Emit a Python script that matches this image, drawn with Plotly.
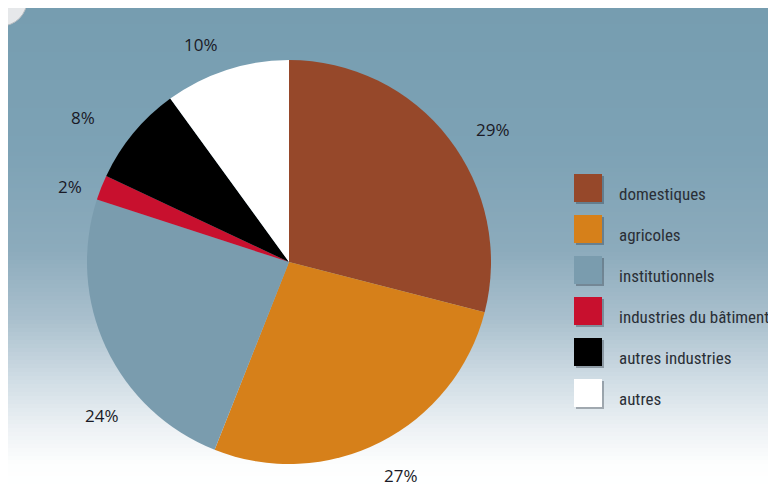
import math
import plotly.graph_objects as go

# ---- data ----
categories = ["domestiques", "agricoles", "institutionnels",
              "industries du bâtiment", "autres industries", "autres"]
values = [29, 27, 24, 2, 8, 10]
colors = ["#96482a", "#d6801a", "#7a9cae", "#c8102e", "#000000", "#ffffff"]

# label placement tweaks (degrees added to slice mid-angle, distance from centre in px)
label_angle_shift = [4.7, -0.6, -14.3, -2.6, -4.6, -4.0]
label_radius = [243, 241, 242, 232, 252, 235]

# The page body has an 8px margin, so the figure starts at (8, 8) on screen.
OFF = 8
W, H = 776 - OFF, 490 - OFF
cx, cy, R = 289, 262, 202  # pie centre / radius in screen px


def px(x):
    return (x - OFF) / W


def py(y):
    return 1 - (y - OFF) / H


fig = go.Figure(go.Pie(
    labels=categories, values=values, sort=False, direction="clockwise",
    rotation=0, marker=dict(colors=colors, line=dict(width=0)),
    textinfo="none", hoverinfo="label+percent", showlegend=False,
    domain=dict(x=[px(cx - R), px(cx + R)], y=[py(cy + R), py(cy - R)]),
))

shapes = []
# background gradient (bands)
stops = [(8, (118, 157, 176)), (150, (125, 162, 181)), (250, (140, 171, 188)),
         (320, (170, 192, 205)), (380, (208, 221, 229)), (430, (238, 242, 245)),
         (465, (253, 254, 254)), (490, (255, 255, 255))]


def col_at(y):
    for (y0, c0), (y1, c1) in zip(stops, stops[1:]):
        if y0 <= y <= y1:
            t = (y - y0) / (y1 - y0)
            return "rgb(%d,%d,%d)" % tuple(round(a + (b - a) * t) for a, b in zip(c0, c1))
    return "rgb(255,255,255)"


step = 4
y = 8
while y < 490:
    shapes.append(dict(type="rect", xref="paper", yref="paper", layer="below",
                       x0=0, x1=1, y0=py(min(y + step, 490)), y1=py(y),
                       fillcolor=col_at(y + step / 2), line=dict(width=0)))
    y += step

# decorative corner circle
shapes.append(dict(type="circle", xref="paper", yref="paper", layer="above",
                   x0=px(-25), x1=px(27), y0=py(26), y1=py(-26),
                   fillcolor="#e6e8ea", line=dict(color="#b8bcc0", width=1)))

annotations = []
# percent labels outside the pie
total = sum(values)
cum = 0
for v, da, r in zip(values, label_angle_shift, label_radius):
    mid = (cum + v / 2) / total * 2 * math.pi + math.radians(da)
    cum += v
    lx = cx + r * math.sin(mid)
    ly = cy - r * math.cos(mid)
    annotations.append(dict(x=px(lx), y=py(ly), xref="paper", yref="paper",
                            xanchor="center", yanchor="middle",
                            text=f"{v}%", showarrow=False,
                            font=dict(family="Open Sans, Noto Sans, sans-serif",
                                      size=17, color="#1a1a26")))

# custom legend
for i, (cat, c) in enumerate(zip(categories, colors)):
    top = 174 + 41 * i
    shapes.append(dict(type="rect", xref="paper", yref="paper", layer="above",
                       x0=px(576), x1=px(604), y0=py(top + 30), y1=py(top + 2),
                       fillcolor="rgba(40,50,60,0.35)", line=dict(width=0)))
    shapes.append(dict(type="rect", xref="paper", yref="paper", layer="above",
                       x0=px(574), x1=px(602), y0=py(top + 28), y1=py(top),
                       fillcolor=c, line=dict(width=0)))
    annotations.append(dict(x=px(617), y=py(top + 20), xref="paper", yref="paper",
                            xanchor="left", yanchor="middle", text=cat, showarrow=False,
                            font=dict(family="Liberation Sans Narrow, Roboto Condensed, Arial Narrow, sans-serif",
                                      size=17, color="#2a2f36")))

fig.update_layout(width=W, height=H, margin=dict(l=0, r=0, t=0, b=0),
                  paper_bgcolor="white", plot_bgcolor="white",
                  shapes=shapes, annotations=annotations, showlegend=False)

fig.write_html("out.html")
